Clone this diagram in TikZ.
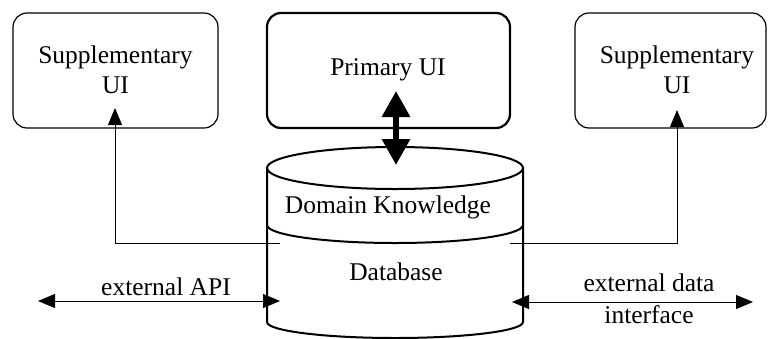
\documentclass[tikz,border=0pt]{standalone}
\usepackage{fontspec}
\setmainfont{Liberation Serif}
\usetikzlibrary{arrows.meta}
\begin{document}
\begin{tikzpicture}[x=1pt,y=-1pt,
  box/.style={draw, rounded corners=14pt, line width=1.2pt, minimum height=115pt, inner sep=0pt},
  lbl/.style={font=\fontsize{25.5}{30}\selectfont, align=center, inner sep=0pt},
  conn/.style={line width=1pt},
  tipend/.style={-{Triangle[length=17pt,width=14pt]}},
  dtip/.style={{Triangle[length=17pt,width=14pt]}-{Triangle[length=17pt,width=14pt]}},
  cyl/.style={line width=2pt}]
\clip (0,0) rectangle (768,338);
% boxes
\node[box, minimum width=205pt] (lbox) at (115.5,70.5) {};
\node[box, minimum width=243pt, line width=2.2pt] (pbox) at (388.5,70.5) {};
\node[box, minimum width=191pt] (rbox) at (670.5,70.5) {};
\node[lbl] (ltext) at (115.5,70) {Supplementary\\UI};
\node[lbl] (ptext) at (388,70) {Primary UI};
\node[lbl] (rtext) at (677,70) {Supplementary\\UI};
% cylinder
\draw[cyl] (395,168) ellipse [x radius=128, y radius=21];
\draw[cyl] (267,168) -- (267,322) arc[start angle=180, end angle=0, x radius=128, y radius=16] -- (523,168);
\draw[cyl] (267,225) arc[start angle=180, end angle=0, x radius=128, y radius=18];
\node[lbl] (dk) at (388,207) {Domain Knowledge};
\node[lbl] (db) at (396,272) {Database};
% coordinates
\coordinate (dbL) at (280,243);
\coordinate (dbR) at (510,243);
\coordinate (lTip) at (115,108);
\coordinate (rTip) at (677,110);
\coordinate (apiL) at (38,301);
\coordinate (apiR) at (280,301);
\coordinate (dataL) at (512,302);
\coordinate (dataR) at (753,302);
\coordinate (pTop) at (396,91);
\coordinate (pBot) at (396,165);
% connectors
\draw[conn,tipend] (dbL) -| (lTip);
\draw[conn,tipend] (dbR) -| (rTip);
\draw[conn,dtip] (apiL) -- (apiR);
\draw[conn,dtip] (dataL) -- (dataR);
\draw[line width=6pt, {Triangle[length=26pt,width=27pt]}-{Triangle[length=26pt,width=27pt]}] (pTop) -- (pBot);
% labels
\node[lbl] (api) at (166,287) {external API};
\node[lbl] (edata) at (649,283) {external data};
\node[lbl] (iface) at (649,315) {interface};
\end{tikzpicture}
\end{document}
